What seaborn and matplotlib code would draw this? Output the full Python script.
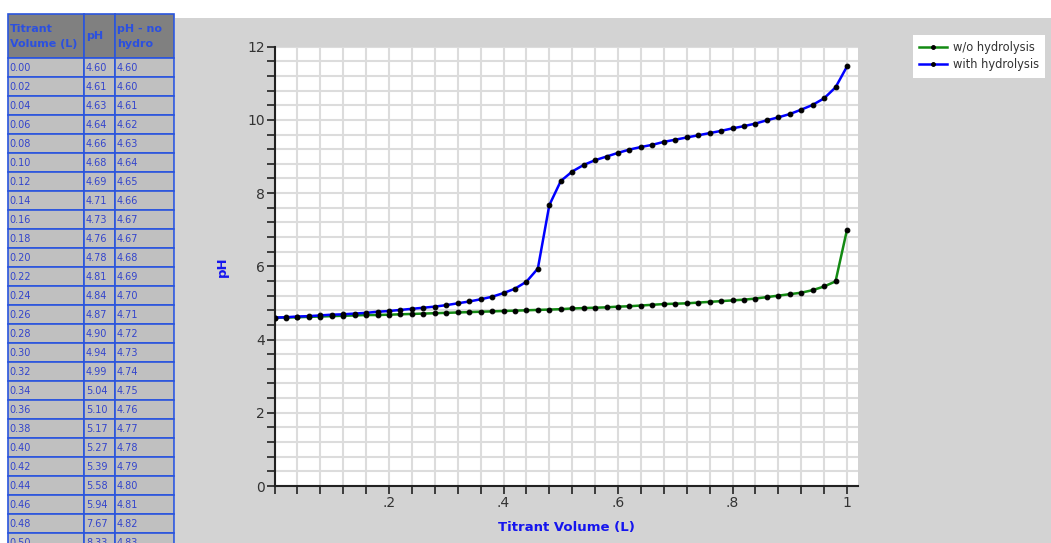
import numpy as np
import pandas as pd
import matplotlib
matplotlib.use("Agg")
import matplotlib.pyplot as plt
import seaborn as sns
from matplotlib.patches import Rectangle

# ---------------- data ----------------
volume = [0.00, 0.02, 0.04, 0.06, 0.08, 0.10, 0.12, 0.14, 0.16, 0.18,
          0.20, 0.22, 0.24, 0.26, 0.28, 0.30, 0.32, 0.34, 0.36, 0.38,
          0.40, 0.42, 0.44, 0.46, 0.48, 0.50, 0.52, 0.54, 0.56, 0.58,
          0.60, 0.62, 0.64, 0.66, 0.68, 0.70, 0.72, 0.74, 0.76, 0.78,
          0.80, 0.82, 0.84, 0.86, 0.88, 0.90, 0.92, 0.94, 0.96, 0.98, 1.00]

ph_hydro = [4.60, 4.61, 4.63, 4.64, 4.66, 4.68, 4.69, 4.71, 4.73, 4.76,
            4.78, 4.81, 4.84, 4.87, 4.90, 4.94, 4.99, 5.04, 5.10, 5.17,
            5.27, 5.39, 5.58, 5.94, 7.67, 8.33, 8.59, 8.77, 8.90, 9.00,
            9.10, 9.19, 9.26, 9.32, 9.40, 9.46, 9.52, 9.58, 9.64, 9.70,
            9.77, 9.83, 9.90, 9.99, 10.07, 10.16, 10.28, 10.41, 10.59, 10.89, 11.46]

ph_no_hydro = [4.60, 4.60, 4.61, 4.62, 4.63, 4.64, 4.65, 4.66, 4.67, 4.67,
               4.68, 4.69, 4.70, 4.71, 4.72, 4.73, 4.74, 4.75, 4.76, 4.77,
               4.78, 4.79, 4.80, 4.81, 4.82, 4.83, 4.85, 4.86, 4.87, 4.88,
               4.90, 4.91, 4.93, 4.95, 4.97, 4.98, 4.99, 5.01, 5.03, 5.05,
               5.07, 5.09, 5.12, 5.16, 5.20, 5.24, 5.28, 5.35, 5.45, 5.59, 7.00]

series_labels = ["w/o hydrolysis", "with hydrolysis"]
table_headers = ["Titrant\nVolume (L)", "pH", "pH - no\nhydro"]
table_rows_shown = 26
x_label_map = {0.2: ".2", 0.4: ".4", 0.6: ".6", 0.8: ".8", 1.0: "1"}
y_label_map = {0: "0", 2: "2", 4: "4", 6: "6", 8: "8", 10: "10", 12: "12"}

# ---------------- figure ----------------
W, H = 1051, 543
fig = plt.figure(figsize=(W / 100, H / 100), dpi=100)
fig.patch.set_facecolor("white")

def fx(px):
    return px / W

def fy(py):
    return 1 - py / H

# grey panel background (behind the axes)
fig.patches.append(Rectangle((fx(175), 0), 1 - fx(175), fy(18), transform=fig.transFigure,
                             facecolor="#d3d3d3", edgecolor="none", zorder=-5))

# ---------------- table ----------------
col_edges = [7.5, 84, 115, 174]
hdr_top, hdr_bot = 14.5, 58.3
row_h = 19.0
border = "#2a55dd"
hdr_txt = "#2b50e0"
body_txt = "#3344cc"
for c in range(3):
    x0, x1 = col_edges[c], col_edges[c + 1]
    fig.patches.append(Rectangle((fx(x0), fy(hdr_bot)), fx(x1) - fx(x0), fy(hdr_top) - fy(hdr_bot),
                                 transform=fig.transFigure, facecolor="#808080",
                                 edgecolor=border, lw=1.2, zorder=2))
    fig.text(fx(x0 + 2), fy((hdr_top + hdr_bot) / 2), table_headers[c], color=hdr_txt,
             fontsize=8, fontweight="bold", ha="left", va="center", linespacing=1.55, zorder=3)

for r in range(table_rows_shown):
    top = hdr_bot + r * row_h
    bot = top + row_h
    vals = ["%.2f" % volume[r], "%.2f" % ph_hydro[r], "%.2f" % ph_no_hydro[r]]
    for c in range(3):
        x0, x1 = col_edges[c], col_edges[c + 1]
        fig.patches.append(Rectangle((fx(x0), fy(bot)), fx(x1) - fx(x0), fy(top) - fy(bot),
                                     transform=fig.transFigure, facecolor="#c0c0c0",
                                     edgecolor=border, lw=1.2, zorder=2))
        fig.text(fx(x0 + 2), fy((top + bot) / 2 + 0.5), vals[c], color=body_txt,
                 fontsize=7, ha="left", va="center", zorder=3)

# ---------------- chart ----------------
ax_l, ax_r, ax_t, ax_b = 274.5, 858, 46.7, 486
ax = fig.add_axes([fx(ax_l), fy(ax_b), fx(ax_r) - fx(ax_l), fy(ax_t) - fy(ax_b)])
ax.set_zorder(1)
ax.set_facecolor("white")

df = pd.DataFrame({"volume": volume, "ph_hydro": ph_hydro, "ph_no_hydro": ph_no_hydro})

sns.lineplot(data=df, x="volume", y="ph_no_hydro", ax=ax, color="#138a13", lw=1.8,
             marker="o", markersize=3.4, markerfacecolor="black", markeredgecolor="black",
             label=series_labels[0], zorder=3)
sns.lineplot(data=df, x="volume", y="ph_hydro", ax=ax, color="#0000ff", lw=1.8,
             marker="o", markersize=3.4, markerfacecolor="black", markeredgecolor="black",
             label=series_labels[1], zorder=4)

x_max = (ax_r - ax_l) / 572.5
ax.set_xlim(0, x_max)
ax.set_ylim(0, 12)

xt = [i * 0.04 for i in range(26)]
ax.set_xticks(xt, [x_label_map.get(round(t, 2), "") for t in xt])
yt = [i * 0.4 for i in range(31)]
ax.set_yticks(yt, [y_label_map.get(round(t, 1), "") if abs(t - round(t)) < 1e-6 else "" for t in yt])

ax.tick_params(axis="both", direction="out", length=5.5, width=1.2, color="#222222",
               labelcolor="#333333", labelsize=10, pad=1.5)
ax.grid(True, color="#dcdcdc", lw=1.5)
ax.set_axisbelow(True)
for s in ["top", "right"]:
    ax.spines[s].set_visible(False)
for s in ["left", "bottom"]:
    ax.spines[s].set_linewidth(1.5)
    ax.spines[s].set_color("#222222")

ax.set_xlabel("Titrant Volume (L)", color="#1515ee", fontsize=9.5, fontweight="bold", labelpad=8)
ax.set_ylabel("pH", color="#1515ee", fontsize=9.5, fontweight="bold", labelpad=13)

leg = ax.legend(loc="upper left", bbox_to_anchor=(fx(913), fy(35)), bbox_transform=fig.transFigure,
                frameon=True, fancybox=False, fontsize=8.3, handlelength=2.4, handletextpad=0.5,
                borderpad=0.55, labelspacing=0.35, borderaxespad=0, markerscale=0.8)
leg.get_frame().set_facecolor("white")
leg.get_frame().set_edgecolor("none")
leg.get_frame().set_alpha(1)
for t in leg.get_texts():
    t.set_color("#333333")

fig.savefig("out.png", dpi=100, facecolor=fig.get_facecolor())
